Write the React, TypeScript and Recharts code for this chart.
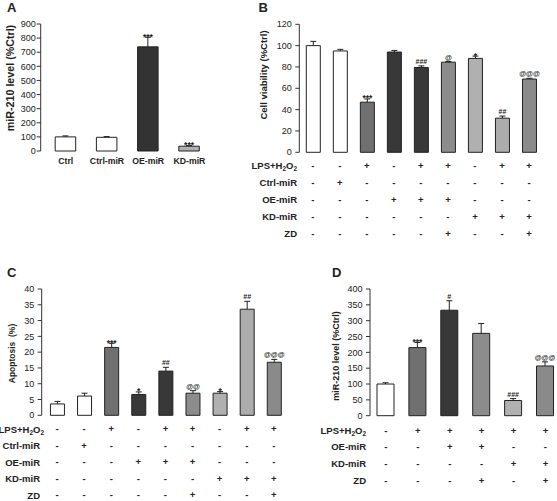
import { BarChart, Bar, XAxis, YAxis, Cell, LabelList } from "recharts"

const FONT = '"Liberation Sans", Arial, sans-serif'
const INK = "#222"

// A: miR-210 level after transfection
const aGroups = ["Ctrl", "Ctrl-miR", "OE-miR", "KD-miR"]
const aLevel = [100, 97, 738, 34]
const aErr = [7, 5, 68, 4]
const aSig = ["", "", "***", "***"]
const aTicks = [0, 100, 200, 300, 400, 500, 600, 700, 800, 900]

// treatment table shared by B and C (1 = "+", 0 = "-")
const bcRowNames = ["LPS+H2O2", "Ctrl-miR", "OE-miR", "KD-miR", "ZD"]
const bcLps = [0, 0, 1, 0, 1, 1, 0, 1, 1]
const bcCtrl = [0, 1, 0, 0, 0, 0, 0, 0, 0]
const bcOe = [0, 0, 0, 1, 1, 1, 0, 0, 0]
const bcKd = [0, 0, 0, 0, 0, 0, 1, 1, 1]
const bcZd = [0, 0, 0, 0, 0, 1, 0, 0, 1]

// B: cell viability
const bViability = [100, 95, 47, 94, 79.5, 84.5, 88, 32, 68.7]
const bErr = [4, 1.5, 3, 1.5, 1.5, 0.6, 2.2, 2, 0.7]
const bSig = ["", "", "***", "", "###", "@", "*", "##", "@@@"]
const bTicks = [0, 20, 40, 60, 80, 100, 120]

// C: apoptosis
const cApoptosis = [3.6, 6.1, 21.5, 6.6, 14.0, 7.0, 7.0, 33.6, 16.8]
const cErr = [0.8, 0.9, 1.3, 0.8, 1.2, 0.8, 0.5, 2.5, 0.9]
const cSig = ["", "", "***", "*", "##", "@@", "*", "##", "@@@"]
const cTicks = [0, 5, 10, 15, 20, 25, 30, 35, 40]

// D: miR-210 level under treatment
const dRowNames = ["LPS+H2O2", "OE-miR", "KD-miR", "ZD"]
const dLps = [0, 1, 1, 1, 1, 1]
const dOe = [0, 0, 1, 1, 0, 0]
const dKd = [0, 0, 0, 0, 1, 1]
const dZd = [0, 0, 0, 1, 0, 1]
const dLevel = [100, 215, 333, 260, 48, 157]
const dErr = [4, 16, 30, 31, 6, 13]
const dSig = ["", "***", "#", "", "###", "@@@"]
const dTicks = [0, 50, 100, 150, 200, 250, 300, 350, 400]

// bar fills
const WHITE = "#ffffff"
const MID = "#707070"
const DARK = "#383838"
const GREY = "#8c8c8c"
const LIGHT = "#b0b0b0"
const aFills = [WHITE, WHITE, "#333333", LIGHT]
const bcFills = [WHITE, WHITE, MID, DARK, DARK, GREY, LIGHT, "#acacac", "#8a8a8a"]
const dFills = [WHITE, MID, DARK, GREY, LIGHT, "#8a8a8a"]

const signs = (marks: number[]) => marks.map((m) => (m ? "+" : "-"))

function ErrorWhisker(p: any) {
  const { x, y, width, height } = p
  if (!height) return <g />
  const cx = x + width / 2
  return (
    <g stroke={INK} strokeWidth={1}>
      <line x1={cx} x2={cx} y1={y} y2={y + height} />
      <line x1={cx - 3} x2={cx + 3} y1={y} y2={y} />
    </g>
  )
}

function SigLabel(p: any) {
  const vb = p.viewBox ?? p
  const v = p.value
  if (!v) return null
  const star = String(v).startsWith("*")
  return (
    <text
      x={vb.x + vb.width / 2}
      y={star ? vb.y + 2.5 : vb.y - 2}
      textAnchor="middle"
      fontSize={star ? 8.5 : 7}
      fontWeight="bold"
      fill={INK}
      fontFamily={FONT}
    >
      {v}
    </text>
  )
}

type Row = { labels: string[]; height: number; margin: number; fontSize: number }

type PanelProps = {
  left: number
  top: number
  width: number
  height: number
  margin: { top: number; right: number; bottom: number; left: number }
  values: number[]
  errs: number[]
  sigs: string[]
  fills: string[]
  ticks: number[]
  rows: Row[]
  barSize: number
  pad: number
  tickMargin: number
}

function Panel(props: PanelProps) {
  const { values, errs, sigs, fills, ticks, rows } = props
  const data = values.map((v, i) => ({ key: String(i), val: v, err: errs[i], sig: sigs[i] }))
  return (
    <div style={{ position: "absolute", left: props.left, top: props.top }}>
      <BarChart width={props.width} height={props.height} data={data} margin={props.margin}>
        <YAxis
          width={30}
          domain={[0, ticks[ticks.length - 1]]}
          ticks={ticks}
          interval={0}
          tickSize={4}
          tickMargin={props.tickMargin}
          axisLine={{ stroke: "#333" }}
          tickLine={{ stroke: "#333" }}
          tick={{ fontSize: 9, fill: INK, fontFamily: FONT }}
        />
        {rows.map((r, ri) => (
          <XAxis
            key={ri}
            xAxisId={"r" + ri}
            dataKey="key"
            height={r.height}
            axisLine={false}
            tickLine={false}
            tickSize={0}
            tickMargin={r.margin}
            interval={0}
            padding={{ left: props.pad, right: 0 }}
            tick={{ fontSize: r.fontSize, fontWeight: "bold", fill: INK, fontFamily: FONT }}
            tickFormatter={(_v: any, i: number) => r.labels[i]}
          />
        ))}
        <Bar xAxisId="r0" dataKey="val" stackId="s" barSize={props.barSize} stroke={INK} strokeWidth={1} isAnimationActive={false}>
          {fills.map((f, i) => (
            <Cell key={i} fill={f} />
          ))}
        </Bar>
        <Bar xAxisId="r0" dataKey="err" stackId="s" barSize={props.barSize} shape={(p: any) => <ErrorWhisker {...p} />} isAnimationActive={false}>
          <LabelList dataKey="sig" content={(p: any) => <SigLabel {...p} />} />
        </Bar>
      </BarChart>
    </div>
  )
}

function RowLabel({ x, y, text, size }: { x: number; y: number; text: string; size: number }) {
  const parts = text.split(/(\d)/).filter((s) => s !== "")
  return (
    <text x={x} y={y} textAnchor="end" fontSize={size} fontWeight="bold" fill={INK} fontFamily={FONT}>
      {parts.map((s, i) =>
        /\d/.test(s) ? (
          <tspan key={i} fontSize={size * 0.68} dy={2}>
            {s}
          </tspan>
        ) : (
          <tspan key={i} dy={i > 0 ? -2 : 0}>
            {s}
          </tspan>
        )
      )}
    </text>
  )
}

const ROW_H = 17
const C_ROW_H = 16.5
const ROW_FONT = 9.5

export default function App() {
  const bRows = [bcLps, bcCtrl, bcOe, bcKd, bcZd].map((m) => ({ labels: signs(m), height: ROW_H, margin: 10.1, fontSize: ROW_FONT }))
  const cRows = [bcLps, bcCtrl, bcOe, bcKd, bcZd].map((m) => ({ labels: signs(m), height: C_ROW_H, margin: 10.4, fontSize: ROW_FONT }))
  const dRows = [dLps, dOe, dKd, dZd].map((m, i) => ({ labels: signs(m), height: i === 0 ? 16 : ROW_H, margin: 11.2, fontSize: ROW_FONT }))

  const bLabelY = bcRowNames.map((_, i) => 166 + i * ROW_H + 3.4)
  const cLabelY = bcRowNames.map((_, i) => 429.3 + i * C_ROW_H + 3.4)
  const dLabelY = dRowNames.map((_, i) => 430.5 + i * ROW_H - (i > 0 ? 1 : 0) + 3.4)

  const yLabel = (x: number, y: number, size: number, text: string) => (
    <text
      transform={`translate(${x},${y}) rotate(-90)`}
      textAnchor="middle"
      fontSize={size}
      fontWeight="bold"
      fill={INK}
      fontFamily={FONT}
      style={{ whiteSpace: "pre" }}
    >
      {text}
    </text>
  )
  const letter = (x: number, y: number, t: string) => (
    <text x={x} y={y} fontSize={13} fontWeight="bold" fill={INK} fontFamily={FONT}>
      {t}
    </text>
  )

  return (
    <div
      style={{
        position: "absolute",
        left: 0,
        top: 0,
        width: 557,
        height: 501,
        overflow: "hidden",
        background: "#fff",
        fontFamily: FONT,
      }}
    >
      <Panel
        left={0}
        top={0}
        width={215}
        height={175}
        margin={{ top: 24, right: 5, bottom: 0, left: 10.7 }}
        values={aLevel}
        errs={aErr}
        sigs={aSig}
        fills={aFills}
        ticks={aTicks}
        rows={[{ labels: aGroups, height: 24, margin: 7, fontSize: 8.7 }]}
        barSize={20.5}
        pad={4.5}
        tickMargin={1}
      />
      <Panel
        left={255}
        top={0}
        width={302}
        height={245}
        margin={{ top: 24.3, right: 14.5, bottom: 7.7, left: 14.3 }}
        values={bViability}
        errs={bErr}
        sigs={bSig}
        fills={bcFills}
        ticks={bTicks}
        rows={bRows}
        barSize={14}
        pad={0}
        tickMargin={3.5}
      />
      <Panel
        left={0}
        top={260}
        width={290}
        height={241}
        margin={{ top: 29, right: 2.6, bottom: 3.2, left: 11.7 }}
        values={cApoptosis}
        errs={cErr}
        sigs={cSig}
        fills={bcFills}
        ticks={cTicks}
        rows={cRows}
        barSize={14}
        pad={1.75}
        tickMargin={3.5}
      />
      <Panel
        left={300}
        top={260}
        width={265}
        height={235}
        margin={{ top: 29, right: 3.6, bottom: 12.3, left: 40 }}
        values={dLevel}
        errs={dErr}
        sigs={dSig}
        fills={dFills}
        ticks={dTicks}
        rows={dRows}
        barSize={17}
        pad={0}
        tickMargin={3.5}
      />
      <svg width={557} height={501} style={{ position: "absolute", left: 0, top: 0, pointerEvents: "none" }}>
        {letter(7, 12.3, "A")}
        {letter(258.5, 12.3, "B")}
        {letter(7, 277, "C")}
        {letter(332, 277, "D")}
        {yLabel(14, 78, 10.7, "miR-210 level (%Ctrl)")}
        {yLabel(266.5, 75, 9.5, "Cell viability (%Ctrl)")}
        {yLabel(15, 353.5, 8.5, "Apoptosis  (%)")}
        {yLabel(338.5, 356, 9, "miR-210 level (%Ctrl)")}
        {bcRowNames.map((n, i) => (
          <RowLabel key={"b" + i} x={297} y={bLabelY[i]} text={n} size={ROW_FONT} />
        ))}
        {bcRowNames.map((n, i) => (
          <RowLabel key={"c" + i} x={i === 0 ? 44 : 40} y={cLabelY[i]} text={n} size={ROW_FONT} />
        ))}
        {dRowNames.map((n, i) => (
          <RowLabel key={"d" + i} x={366} y={dLabelY[i]} text={n} size={ROW_FONT} />
        ))}
      </svg>
    </div>
  )
}
